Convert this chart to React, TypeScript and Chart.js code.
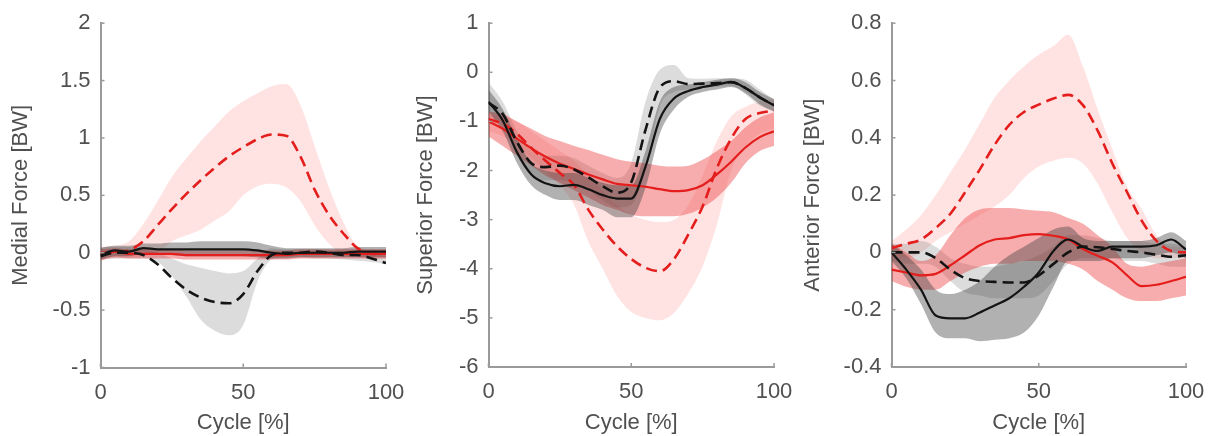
import React, { useEffect, useRef } from "react";
import { Chart, registerables } from "chart.js";

Chart.register(...registerables);

// ---------- data ----------
const cycle = [0, 5, 10, 15, 20, 25, 30, 35, 40, 45, 50, 55, 60, 65, 70, 75, 80, 85, 90, 95, 100];

// Medial force [BW]
const medBlackSolid = [-0.02, 0.02, 0.01, 0.04, 0.03, 0.03, 0.03, 0.03, 0.03, 0.03, 0.03, 0.02, 0.0, -0.01, 0.0, 0.0, 0.0, 0.0, 0.01, 0.01, 0.01];
const medBlackSolidHi = [0.04, 0.06, 0.06, 0.08, 0.08, 0.09, 0.09, 0.1, 0.1, 0.1, 0.1, 0.09, 0.06, 0.04, 0.04, 0.04, 0.04, 0.04, 0.05, 0.05, 0.05];
const medBlackSolidLo = [-0.06, -0.03, -0.03, 0.0, -0.01, -0.02, -0.03, -0.03, -0.03, -0.03, -0.03, -0.04, -0.05, -0.05, -0.04, -0.04, -0.04, -0.04, -0.04, -0.04, -0.04];
const medBlackDashed = [-0.03, 0.0, 0.0, -0.02, -0.1, -0.22, -0.32, -0.39, -0.43, -0.44, -0.36, -0.16, -0.02, 0.0, 0.0, 0.01, 0.0, -0.02, -0.02, -0.05, -0.09];
const medBlackDashedHi = [0.05, 0.05, 0.05, 0.03, 0.0, -0.05, -0.1, -0.13, -0.16, -0.18, -0.16, -0.05, 0.04, 0.03, 0.03, 0.03, 0.02, 0.02, 0.02, 0.0, -0.03];
const medBlackDashedLo = [-0.06, -0.05, -0.05, -0.05, -0.08, -0.2, -0.38, -0.58, -0.68, -0.72, -0.63, -0.25, -0.06, -0.04, -0.04, -0.05, -0.05, -0.06, -0.07, -0.08, -0.1];
const medRedSolid = [-0.02, 0.01, -0.01, -0.01, -0.01, -0.01, -0.02, -0.02, -0.02, -0.02, -0.02, -0.02, -0.02, -0.02, -0.01, -0.01, -0.01, -0.01, -0.01, -0.01, -0.01];
const medRedSolidHi = [0.03, 0.04, 0.03, 0.03, 0.03, 0.03, 0.02, 0.02, 0.02, 0.02, 0.02, 0.02, 0.02, 0.02, 0.03, 0.03, 0.03, 0.03, 0.03, 0.03, 0.03];
const medRedSolidLo = [-0.07, -0.04, -0.05, -0.05, -0.05, -0.05, -0.06, -0.06, -0.06, -0.06, -0.06, -0.06, -0.06, -0.06, -0.05, -0.05, -0.05, -0.05, -0.05, -0.05, -0.05];
const medRedDashed = [0.0, 0.0, 0.02, 0.1, 0.24, 0.38, 0.51, 0.63, 0.74, 0.84, 0.92, 0.99, 1.03, 1.02, 0.84, 0.55, 0.33, 0.17, 0.04, -0.01, 0.0];
const medRedDashedHi = [0.05, 0.06, 0.1, 0.25, 0.45, 0.66, 0.82, 0.97, 1.1, 1.23, 1.32, 1.39, 1.45, 1.47, 1.29, 0.93, 0.57, 0.27, 0.06, 0.03, 0.03];
const medRedDashedLo = [-0.05, -0.05, -0.04, -0.03, 0.0, 0.1, 0.15, 0.2, 0.28, 0.36, 0.5, 0.58, 0.6, 0.57, 0.45, 0.24, 0.08, -0.02, -0.04, -0.05, -0.05];

// Superior force [BW]
const supBlackSolid = [-0.6, -0.98, -1.63, -2.08, -2.26, -2.32, -2.29, -2.38, -2.5, -2.57, -2.57, -1.92, -0.95, -0.53, -0.38, -0.3, -0.25, -0.2, -0.32, -0.51, -0.67];
const supBlackSolidHi = [-0.35, -0.75, -1.35, -1.85, -2.0, -2.05, -2.05, -2.15, -2.25, -2.3, -2.3, -1.6, -0.6, -0.3, -0.25, -0.2, -0.15, -0.12, -0.2, -0.4, -0.55];
const supBlackSolidLo = [-0.8, -1.2, -1.85, -2.3, -2.5, -2.6, -2.6, -2.7, -2.8, -2.95, -2.95, -2.35, -1.25, -0.75, -0.5, -0.4, -0.35, -0.3, -0.42, -0.65, -0.8];
const supBlackDashed = [-0.62, -0.85, -1.42, -1.85, -1.93, -1.9, -1.98, -2.14, -2.32, -2.45, -2.24, -1.17, -0.31, -0.18, -0.24, -0.23, -0.22, -0.2, -0.32, -0.51, -0.67];
const supBlackDashedHi = [-0.2, -0.6, -1.2, -1.6, -1.7, -1.7, -1.75, -1.9, -2.05, -2.15, -1.85, -0.6, 0.05, 0.15, -0.12, -0.13, -0.12, -0.12, -0.15, -0.35, -0.55];
const supBlackDashedLo = [-0.9, -1.1, -1.7, -2.1, -2.2, -2.2, -2.25, -2.4, -2.6, -2.75, -2.7, -2.0, -0.7, -0.4, -0.35, -0.32, -0.3, -0.28, -0.45, -0.68, -0.8];
const supRedSolid = [-1.0, -1.15, -1.35, -1.55, -1.72, -1.86, -1.97, -2.08, -2.18, -2.27, -2.3, -2.33, -2.38, -2.42, -2.4, -2.3, -2.08, -1.82, -1.53, -1.32, -1.2];
const supRedSolidHi = [-0.8, -0.85, -1.0, -1.15, -1.3, -1.4, -1.5, -1.58, -1.68, -1.77, -1.82, -1.85, -1.9, -1.92, -1.9, -1.78, -1.6, -1.4, -1.12, -0.92, -0.82];
const supRedSolidLo = [-1.3, -1.5, -1.7, -1.9, -2.1, -2.25, -2.4, -2.55, -2.7, -2.8, -2.9, -2.93, -2.93, -2.93, -2.88, -2.75, -2.55, -2.25, -1.85, -1.6, -1.5];
const supRedDashed = [-0.95, -1.05, -1.25, -1.54, -1.8, -2.05, -2.3, -2.8, -3.2, -3.54, -3.8, -3.98, -4.05, -3.8, -3.3, -2.73, -1.95, -1.35, -0.95, -0.83, -0.78];
const supRedDashedHi = [-0.85, -0.9, -1.0, -1.2, -1.4, -1.6, -1.8, -2.1, -2.4, -2.7, -2.9, -3.0, -3.05, -3.0, -2.7, -2.1, -1.4, -0.9, -0.7, -0.6, -0.55];
const supRedDashedLo = [-1.2, -1.3, -1.5, -1.75, -2.0, -2.3, -2.7, -3.45, -4.0, -4.55, -4.88, -5.0, -5.05, -4.9, -4.5, -3.95, -3.1, -2.0, -1.5, -1.25, -1.15];

// Anterior force [BW]
const antBlackSolid = [0.0, -0.06, -0.13, -0.22, -0.23, -0.23, -0.21, -0.185, -0.16, -0.12, -0.07, 0.005, 0.045, 0.02, 0.005, 0.02, 0.02, 0.02, 0.025, 0.045, 0.01];
const antBlackSolidHi = [0.03, -0.01, -0.06, -0.13, -0.145, -0.13, -0.1, -0.05, -0.01, 0.02, 0.05, 0.08, 0.09, 0.05, 0.04, 0.04, 0.04, 0.04, 0.05, 0.07, 0.04];
const antBlackSolidLo = [-0.03, -0.09, -0.18, -0.28, -0.3, -0.3, -0.31, -0.305, -0.3, -0.28, -0.22, -0.12, -0.03, -0.03, -0.03, -0.02, -0.02, -0.02, -0.01, 0.0, -0.02];
const antBlackDashed = [0.0, 0.0, 0.0, -0.02, -0.06, -0.09, -0.1, -0.103, -0.105, -0.105, -0.08, -0.04, 0.0, 0.02, 0.018, 0.012, 0.005, 0.0, -0.008, -0.015, -0.01];
const antBlackDashedHi = [0.03, 0.03, 0.04, 0.02, -0.02, -0.04, -0.05, -0.05, -0.04, -0.03, -0.01, 0.02, 0.06, 0.06, 0.05, 0.04, 0.04, 0.04, 0.03, 0.03, 0.02];
const antBlackDashedLo = [-0.03, -0.04, -0.04, -0.05, -0.1, -0.14, -0.15, -0.16, -0.16, -0.16, -0.15, -0.1, -0.04, -0.02, -0.02, -0.02, -0.03, -0.03, -0.04, -0.05, -0.05];
const antRedSolid = [-0.06, -0.07, -0.08, -0.075, -0.045, -0.01, 0.025, 0.045, 0.05, 0.06, 0.064, 0.058, 0.045, 0.012, -0.012, -0.035, -0.08, -0.118, -0.113, -0.1, -0.085];
const antRedSolidHi = [0.03, 0.0, -0.03, -0.01, 0.06, 0.12, 0.15, 0.155, 0.155, 0.15, 0.145, 0.14, 0.12, 0.1, 0.06, 0.02, -0.04, -0.05, -0.04, -0.03, -0.02];
const antRedSolidLo = [-0.1, -0.12, -0.13, -0.13, -0.1, -0.07, -0.05, -0.04, -0.04, -0.03, -0.03, -0.03, -0.04, -0.06, -0.1, -0.13, -0.16, -0.17, -0.17, -0.16, -0.15];
const antRedDashed = [0.015, 0.03, 0.045, 0.085, 0.135, 0.21, 0.29, 0.375, 0.445, 0.49, 0.516, 0.537, 0.55, 0.514, 0.425, 0.31, 0.21, 0.11, 0.04, 0.005, 0.0];
const antRedDashedHi = [0.04, 0.08, 0.13, 0.2, 0.28, 0.36, 0.45, 0.54, 0.6, 0.65, 0.69, 0.72, 0.76, 0.65, 0.5, 0.36, 0.23, 0.15, 0.06, 0.02, 0.02];
const antRedDashedLo = [-0.01, -0.02, 0.0, 0.04, 0.07, 0.1, 0.13, 0.16, 0.2, 0.26, 0.3, 0.32, 0.33, 0.31, 0.24, 0.14, 0.05, 0.0, -0.02, -0.02, -0.02];

// tick values
const xTicks = { min: 0, max: 100, step: 50 };
const medTicks = { min: -1, max: 2, step: 0.5 };
const supTicks = { min: -6, max: 1, step: 1 };
const antTicks = { min: -0.4, max: 0.8, step: 0.2 };

// ---------- styles ----------
const FONT = { family: "'Liberation Sans', Arial, Helvetica, sans-serif", size: 22 };
const TEXT = "#505050";
const AXIS = "#9a9a9a";
const RED = "rgb(228,30,28)";
const BLACK = "#141414";
const PINK = "rgba(255,70,70,0.15)";
const SALMON = "rgba(235,50,50,0.4)";
const LIGHT_GREY = "rgba(120,120,120,0.26)";
const DARK_GREY = "rgba(60,60,60,0.4)";

const pts = (ys: number[]) => cycle.map((x, i) => ({ x, y: ys[i] }));

const lineDs = (ys: number[], color: string, dashed: boolean, order: number) => ({
  data: pts(ys),
  borderColor: color,
  borderWidth: dashed ? 2.6 : 2.2,
  borderDash: dashed ? [11, 6] : [],
  fill: false,
  pointRadius: 0,
  cubicInterpolationMode: "monotone",
  order,
});

const bandDs = (hi: number[], lo: number[], color: string, order: number) => [
  {
    data: pts(hi),
    borderWidth: 0,
    borderColor: "rgba(0,0,0,0)",
    backgroundColor: color,
    fill: "+1",
    pointRadius: 0,
    cubicInterpolationMode: "monotone",
    order,
  },
  {
    data: pts(lo),
    borderWidth: 0,
    borderColor: "rgba(0,0,0,0)",
    fill: false,
    pointRadius: 0,
    cubicInterpolationMode: "monotone",
    order: order + 0.5,
  },
];

const inwardTicks = {
  id: "inwardTicks",
  afterDraw(chart: any) {
    const { ctx, chartArea, scales } = chart;
    ctx.save();
    ctx.strokeStyle = AXIS;
    ctx.lineWidth = 1.5;
    scales.x.ticks.forEach((t: any) => {
      const px = scales.x.getPixelForValue(t.value);
      ctx.beginPath();
      ctx.moveTo(px, chartArea.bottom);
      ctx.lineTo(px, chartArea.bottom - 4);
      ctx.stroke();
    });
    scales.y.ticks.forEach((t: any) => {
      const py = scales.y.getPixelForValue(t.value);
      ctx.beginPath();
      ctx.moveTo(chartArea.left, py);
      ctx.lineTo(chartArea.left + 4, py);
      ctx.stroke();
    });
    ctx.restore();
  },
};

type PanelProps = {
  label: string;
  yTicks: { min: number; max: number; step: number };
  bands: any[];
  lines: any[];
  left: number;
  width: number;
  yWidth: number;
  top: number;
  xHeight: number;
  padRight: number;
  titlePad: number;
};

function Panel(p: PanelProps) {
  const ref = useRef<HTMLCanvasElement | null>(null);
  useEffect(() => {
    if (!ref.current) return;
    const fmt = (v: any) => String(Math.round(Number(v) * 10) / 10);
    const chart = new Chart(ref.current, {
      type: "line",
      data: { datasets: [...p.lines, ...p.bands] as any },
      options: {
        animation: false,
        responsive: false,
        maintainAspectRatio: false,
        devicePixelRatio: 1,
        layout: { padding: { top: p.top, right: p.padRight, bottom: 0, left: 0 } },
        plugins: { legend: { display: false }, tooltip: { enabled: false } },
        scales: {
          x: {
            type: "linear",
            min: xTicks.min,
            max: xTicks.max,
            ticks: { stepSize: xTicks.step, padding: 12, color: TEXT, font: FONT, callback: fmt, maxRotation: 0 },
            grid: { display: false, drawTicks: false },
            border: { display: true, color: AXIS, width: 2 },
            title: { display: true, text: "Cycle [%]", color: TEXT, font: FONT, padding: { top: 0, bottom: -0.5 } },
            afterFit: (s: any) => {
              s.height = p.xHeight;
            },
          },
          y: {
            type: "linear",
            min: p.yTicks.min,
            max: p.yTicks.max,
            ticks: { stepSize: p.yTicks.step, padding: 10, color: TEXT, font: FONT, callback: fmt },
            grid: { display: false, drawTicks: false },
            border: { display: true, color: AXIS, width: 2 },
            title: { display: true, text: p.label, color: TEXT, font: FONT, padding: { top: p.titlePad, bottom: 0 } },
            afterFit: (s: any) => {
              s.width = p.yWidth;
            },
          },
        },
      } as any,
      plugins: [inwardTicks],
    });
    return () => chart.destroy();
  }, []);
  return (
    <canvas
      ref={ref}
      width={p.width}
      height={436}
      style={{ position: "absolute", left: p.left, top: 0, width: p.width, height: 436 }}
    />
  );
}

export default function App() {
  const medial = {
    lines: [
      lineDs(medBlackSolid, BLACK, false, 1),
      lineDs(medBlackDashed, BLACK, true, 2),
      lineDs(medRedSolid, RED, false, 3),
      lineDs(medRedDashed, RED, true, 4),
    ],
    bands: [
      ...bandDs(medBlackSolidHi, medBlackSolidLo, DARK_GREY, 7),
      ...bandDs(medRedSolidHi, medRedSolidLo, SALMON, 8),
      ...bandDs(medBlackDashedHi, medBlackDashedLo, LIGHT_GREY, 9),
      ...bandDs(medRedDashedHi, medRedDashedLo, PINK, 10),
    ],
  };
  const superior = {
    lines: [
      lineDs(supBlackSolid, BLACK, false, 1),
      lineDs(supBlackDashed, BLACK, true, 2),
      lineDs(supRedSolid, RED, false, 3),
      lineDs(supRedDashed, RED, true, 4),
    ],
    bands: [
      ...bandDs(supBlackSolidHi, supBlackSolidLo, DARK_GREY, 7),
      ...bandDs(supRedSolidHi, supRedSolidLo, SALMON, 8),
      ...bandDs(supBlackDashedHi, supBlackDashedLo, LIGHT_GREY, 9),
      ...bandDs(supRedDashedHi, supRedDashedLo, PINK, 10),
    ],
  };
  const anterior = {
    lines: [
      lineDs(antBlackSolid, BLACK, false, 1),
      lineDs(antBlackDashed, BLACK, true, 2),
      lineDs(antRedSolid, RED, false, 3),
      lineDs(antRedDashed, RED, true, 4),
    ],
    bands: [
      ...bandDs(antBlackSolidHi, antBlackSolidLo, DARK_GREY, 7),
      ...bandDs(antRedSolidHi, antRedSolidLo, SALMON, 8),
      ...bandDs(antBlackDashedHi, antBlackDashedLo, LIGHT_GREY, 9),
      ...bandDs(antRedDashedHi, antRedDashedLo, PINK, 10),
    ],
  };
  return (
    <div style={{ position: "absolute", left: 0, top: 0, width: 1215, height: 436, background: "#ffffff", overflow: "hidden" }}>
      <Panel label="Medial Force [BW]" yTicks={medTicks} {...medial} left={0} width={421} yWidth={100.5} top={21.5} xHeight={68.5} padRight={35} titlePad={8} />
      <Panel label="Superior Force [BW]" yTicks={supTicks} {...superior} left={405} width={404} yWidth={83.5} top={20.5} xHeight={69} padRight={35} titlePad={7.8} />
      <Panel label="Anterior Force [BW]" yTicks={antTicks} {...anterior} left={798} width={423} yWidth={93.5} top={21} xHeight={69} padRight={35} titlePad={1.3} />
    </div>
  );
}
